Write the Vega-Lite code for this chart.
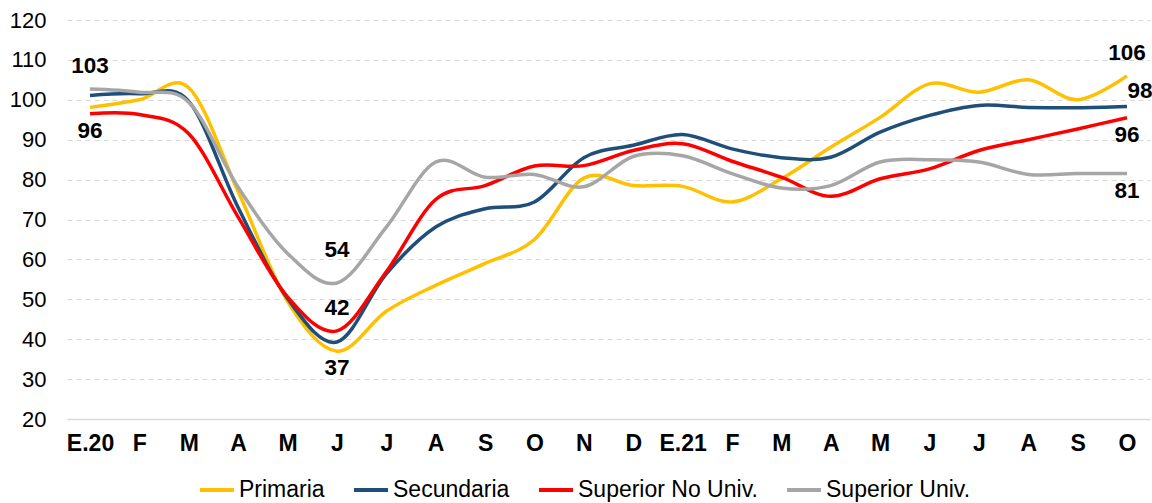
{
  "$schema": "https://vega.github.io/schema/vega-lite/v6.json",
  "autosize": {"type": "none"},
  "width": 1083,
  "height": 399,
  "padding": {"left": 67, "top": 20, "right": 2, "bottom": 84},
  "background": "white",
  "config": {
    "font": "Liberation Sans",
    "view": {"stroke": null}
  },
  "datasets": {
    "series": [
      {"t":"Ene20","serie":"Primaria","v":98.1},{"t":"Feb20","serie":"Primaria","v":100},{"t":"Mar20","serie":"Primaria","v":103},{"t":"Abr20","serie":"Primaria","v":77},{"t":"May20","serie":"Primaria","v":49.5},{"t":"Jun20","serie":"Primaria","v":37},{"t":"Jul20","serie":"Primaria","v":47},{"t":"Ago20","serie":"Primaria","v":53.5},{"t":"Sep20","serie":"Primaria","v":59},{"t":"Oct20","serie":"Primaria","v":65},{"t":"Nov20","serie":"Primaria","v":80.4},{"t":"Dic20","serie":"Primaria","v":78.5},{"t":"Ene21","serie":"Primaria","v":78.3},{"t":"Feb21","serie":"Primaria","v":74.4},{"t":"Mar21","serie":"Primaria","v":80.2},{"t":"Abr21","serie":"Primaria","v":88.1},{"t":"May21","serie":"Primaria","v":95.6},{"t":"Jun21","serie":"Primaria","v":104},{"t":"Jul21","serie":"Primaria","v":101.9},{"t":"Ago21","serie":"Primaria","v":105},{"t":"Sep21","serie":"Primaria","v":100},{"t":"Oct21","serie":"Primaria","v":106},
      {"t":"Ene20","serie":"Secundaria","v":101.1},{"t":"Feb20","serie":"Secundaria","v":101.5},{"t":"Mar20","serie":"Secundaria","v":99.6},{"t":"Abr20","serie":"Secundaria","v":73},{"t":"May20","serie":"Secundaria","v":50.2},{"t":"Jun20","serie":"Secundaria","v":39.3},{"t":"Jul20","serie":"Secundaria","v":56.4},{"t":"Ago20","serie":"Secundaria","v":68.1},{"t":"Sep20","serie":"Secundaria","v":72.7},{"t":"Oct20","serie":"Secundaria","v":74.4},{"t":"Nov20","serie":"Secundaria","v":85.5},{"t":"Dic20","serie":"Secundaria","v":88.6},{"t":"Ene21","serie":"Secundaria","v":91.3},{"t":"Feb21","serie":"Secundaria","v":87.7},{"t":"Mar21","serie":"Secundaria","v":85.5},{"t":"Abr21","serie":"Secundaria","v":85.6},{"t":"May21","serie":"Secundaria","v":91.9},{"t":"Jun21","serie":"Secundaria","v":96.1},{"t":"Jul21","serie":"Secundaria","v":98.6},{"t":"Ago21","serie":"Secundaria","v":98.1},{"t":"Sep21","serie":"Secundaria","v":98},{"t":"Oct21","serie":"Secundaria","v":98.3},
      {"t":"Ene20","serie":"Superior No Univ.","v":96.5},{"t":"Feb20","serie":"Superior No Univ.","v":96.3},{"t":"Mar20","serie":"Superior No Univ.","v":91.5},{"t":"Abr20","serie":"Superior No Univ.","v":70.6},{"t":"May20","serie":"Superior No Univ.","v":50.6},{"t":"Jun20","serie":"Superior No Univ.","v":42.1},{"t":"Jul20","serie":"Superior No Univ.","v":56.9},{"t":"Ago20","serie":"Superior No Univ.","v":75},{"t":"Sep20","serie":"Superior No Univ.","v":78.5},{"t":"Oct20","serie":"Superior No Univ.","v":83.4},{"t":"Nov20","serie":"Superior No Univ.","v":83.5},{"t":"Dic20","serie":"Superior No Univ.","v":87.3},{"t":"Ene21","serie":"Superior No Univ.","v":89},{"t":"Feb21","serie":"Superior No Univ.","v":84.6},{"t":"Mar21","serie":"Superior No Univ.","v":80.6},{"t":"Abr21","serie":"Superior No Univ.","v":75.8},{"t":"May21","serie":"Superior No Univ.","v":80.2},{"t":"Jun21","serie":"Superior No Univ.","v":82.7},{"t":"Jul21","serie":"Superior No Univ.","v":87.3},{"t":"Ago21","serie":"Superior No Univ.","v":90},{"t":"Sep21","serie":"Superior No Univ.","v":92.7},{"t":"Oct21","serie":"Superior No Univ.","v":95.5},
      {"t":"Ene20","serie":"Superior Univ.","v":102.7},{"t":"Feb20","serie":"Superior Univ.","v":101.9},{"t":"Mar20","serie":"Superior Univ.","v":99.4},{"t":"Abr20","serie":"Superior Univ.","v":78.1},{"t":"May20","serie":"Superior Univ.","v":61.5},{"t":"Jun20","serie":"Superior Univ.","v":54.1},{"t":"Jul20","serie":"Superior Univ.","v":68.1},{"t":"Ago20","serie":"Superior Univ.","v":84.4},{"t":"Sep20","serie":"Superior Univ.","v":80.6},{"t":"Oct20","serie":"Superior Univ.","v":81.3},{"t":"Nov20","serie":"Superior Univ.","v":78.2},{"t":"Dic20","serie":"Superior Univ.","v":85.8},{"t":"Ene21","serie":"Superior Univ.","v":86},{"t":"Feb21","serie":"Superior Univ.","v":81.5},{"t":"Mar21","serie":"Superior Univ.","v":77.9},{"t":"Abr21","serie":"Superior Univ.","v":78.5},{"t":"May21","serie":"Superior Univ.","v":84.4},{"t":"Jun21","serie":"Superior Univ.","v":85},{"t":"Jul21","serie":"Superior Univ.","v":84.4},{"t":"Ago21","serie":"Superior Univ.","v":81.3},{"t":"Sep21","serie":"Superior Univ.","v":81.5},{"t":"Oct21","serie":"Superior Univ.","v":81.5}
    ],
    "labels": [
      {"t":"Ene20","v":102.7,"label":"103","pos":"above"},
      {"t":"Ene20","v":96.5,"label":"96","pos":"below"},
      {"t":"Jun20","v":54.1,"label":"54","pos":"far"},
      {"t":"Jun20","v":42.1,"label":"42","pos":"above"},
      {"t":"Jun20","v":37,"label":"37","pos":"below"},
      {"t":"Oct21","v":106,"label":"106","pos":"above"},
      {"t":"Oct21","v":98.3,"label":"98","pos":"right"},
      {"t":"Oct21","v":95.5,"label":"96","pos":"below"},
      {"t":"Oct21","v":81.5,"label":"81","pos":"below"}
    ]
  },
  "encoding": {
    "x": {
      "field": "t", "type": "ordinal",
      "scale": {"type": "point", "padding": 0.466, "domain": ["Ene20","Feb20","Mar20","Abr20","May20","Jun20","Jul20","Ago20","Sep20","Oct20","Nov20","Dic20","Ene21","Feb21","Mar21","Abr21","May21","Jun21","Jul21","Ago21","Sep21","Oct21"]},
      "axis": {
        "title": null,
        "labelExpr": "slice(datum.value,0,3)=='Ene' ? 'E.'+slice(datum.value,3) : slice(datum.value,0,1)",
        "labelAngle": 0,
        "labelFontSize": 23,
        "labelFontWeight": "bold",
        "labelColor": "#000000",
        "labelPadding": 13,
        "ticks": false,
        "grid": false,
        "domain": true,
        "domainColor": "#d9d9d9",
        "domainWidth": 1.5
      }
    },
    "y": {
      "field": "v", "type": "quantitative",
      "scale": {"domain": [20, 120], "nice": false, "zero": false},
      "axis": {
        "title": null,
        "values": [20,30,40,50,60,70,80,90,100,110,120],
        "labelFontSize": 22,
        "labelColor": "#000000",
        "labelPadding": 21,
        "ticks": false,
        "domain": false,
        "grid": true,
        "gridColor": "#d9d9d9",
        "gridDash": [5, 4],
        "gridWidth": 1
      }
    }
  },
  "layer": [
    {
      "data": {"name": "series"},
      "mark": {"type": "line", "interpolate": "cardinal", "strokeWidth": 3.5},
      "encoding": {
        "color": {
          "field": "serie", "type": "nominal",
          "scale": {"domain": ["Primaria","Secundaria","Superior No Univ.","Superior Univ."], "range": ["#FFC000","#1F4E79","#FF0000","#A6A6A6"]},
          "legend": {
            "title": null,
            "orient": "none",
            "direction": "horizontal",
            "legendX": 131,
            "legendY": 451,
            "symbolType": "stroke",
            "symbolSize": 1156,
            "symbolStrokeWidth": 4,
            "labelFontSize": 23,
            "labelColor": "#000000",
            "labelOffset": 3,
            "labelLimit": 400,
            "columnPadding": 21
          }
        },
        "detail": {"field": "serie"}
      }
    },
    {
      "data": {"name": "labels"},
      "transform": [{"filter": "datum.pos=='above'"}],
      "mark": {"type": "text", "fontSize": 22.5, "fontWeight": "bold", "color": "#000000", "dy": -23},
      "encoding": {"text": {"field": "label"}}
    },
    {
      "data": {"name": "labels"},
      "transform": [{"filter": "datum.pos=='below'"}],
      "mark": {"type": "text", "fontSize": 22.5, "fontWeight": "bold", "color": "#000000", "dy": 17},
      "encoding": {"text": {"field": "label"}}
    },
    {
      "data": {"name": "labels"},
      "transform": [{"filter": "datum.pos=='far'"}],
      "mark": {"type": "text", "fontSize": 22.5, "fontWeight": "bold", "color": "#000000", "dy": -33},
      "encoding": {"text": {"field": "label"}}
    },
    {
      "data": {"name": "labels"},
      "transform": [{"filter": "datum.pos=='right'"}],
      "mark": {"type": "text", "fontSize": 22.5, "fontWeight": "bold", "color": "#000000", "dy": -16, "dx": 13},
      "encoding": {"text": {"field": "label"}}
    }
  ]
}
